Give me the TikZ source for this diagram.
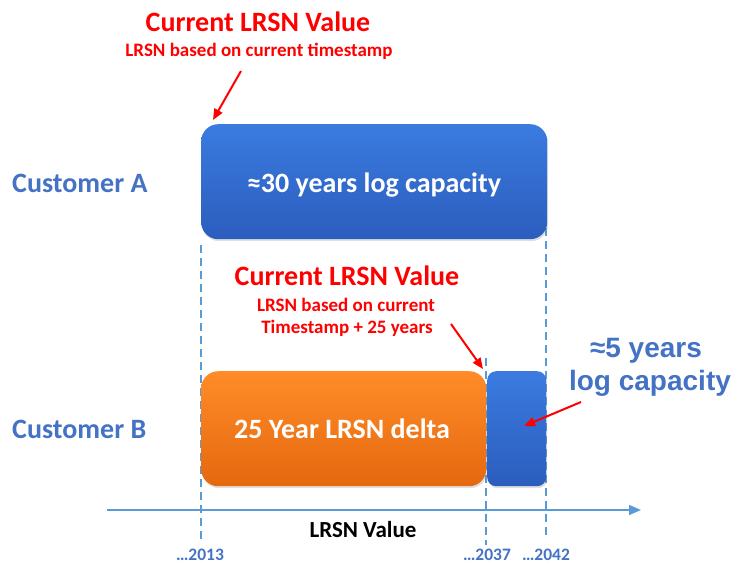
\documentclass[tikz,border=0pt]{standalone}
\usepackage{fontspec}
\setmainfont{Carlito}
\newfontfamily\arialfont{Liberation Sans}
\usetikzlibrary{arrows.meta,shadows}

\definecolor{capblueT}{HTML}{3B7BE0}
\definecolor{capblueB}{HTML}{2B5DBD}
\definecolor{deltaT}{HTML}{FF8C28}
\definecolor{deltaB}{HTML}{E5680F}
\definecolor{labelblue}{HTML}{4472C4}
\definecolor{guideblue}{HTML}{5B9BD5}
\definecolor{markred}{HTML}{FF0000}

\tikzset{
  txt/.style={inner sep=0pt, anchor=base, font=\bfseries},
  bigtxt/.style={txt, font=\fontsize{28}{32}\selectfont\bfseries},
  subtxt/.style={txt, text=markred, font=\fontsize{19}{22}\selectfont\bfseries},
  yeartxt/.style={txt, text=labelblue, font=\fontsize{17.5}{20}\selectfont\bfseries},
  capbox/.style={draw=none, top color=capblueT, bottom color=capblueB,
    anchor=north west, inner sep=0pt, text=white,
    drop shadow={opacity=0.25, shadow xshift=1pt, shadow yshift=-2pt}},
  deltabox/.style={capbox, top color=deltaT, bottom color=deltaB},
  guide/.style={guideblue, line width=2pt, dash pattern=on 8pt off 5pt},
  pointer/.style={markred, line width=2pt,
    -{Triangle[length=11pt, width=9pt]}},
  axisline/.style={guideblue, line width=1.8pt,
    -{Triangle[length=12pt, width=10pt]}},
  sidetxt/.style={txt, text=labelblue, font=\arialfont\fontsize{28}{31}\selectfont\bfseries}
}

\begin{document}
\begin{tikzpicture}[x=1pt, y=-1pt]
\useasboundingbox (0,0) rectangle (745,563);

% end points of the dashed guides and the axis
\coordinate (g13top) at (201,245);
\coordinate (g13bot) at (201,540);
\coordinate (g37top) at (486,358);
\coordinate (g37bot) at (486,545);
\coordinate (g42top) at (546,215);
\coordinate (g42bot) at (546,537);
\coordinate (axstart) at (107,510);
\coordinate (axend) at (641,510);

% dashed year guides
\draw[guide] (g13top) -- (g13bot);
\draw[guide] (g37top) -- (g37bot);
\draw[guide] (g42top) -- (g42bot);

% value axis
\draw[axisline] (axstart) -- (axend);

% capacity bars
\node[capbox, minimum width=346pt, minimum height=115pt, rounded corners=17pt]
  (capA) at (201,124) {};
\node[bigtxt, text=white] (capAtxt) at (374,192) {≈30 years log capacity};

\node[deltabox, minimum width=285pt, minimum height=115pt, rounded corners=17pt]
  (deltaB) at (201,371) {};
\node[bigtxt, text=white] (deltaBtxt) at (342,438) {25 Year LRSN delta};

\node[capbox, minimum width=59pt, minimum height=115pt, rounded corners=9pt]
  (capB) at (487,371) {};

% customer labels
\node[bigtxt, text=labelblue, anchor=base west] (custA) at (12,192) {Customer A};
\node[bigtxt, text=labelblue, anchor=base west] (custB) at (12,438) {Customer B};

% current LRSN value, customer A
\node[bigtxt, text=markred] (curA) at (258,31) {Current LRSN Value};
\node[subtxt] (curAsub) at (259,56) {LRSN based on current timestamp};

% current LRSN value, customer B
\node[bigtxt, text=markred] (curB) at (347,285) {Current LRSN Value};
\node[subtxt] (curBsub1) at (346,311) {LRSN based on current};
\node[subtxt] (curBsub2) at (347,333) {Timestamp + 25 years};

% remaining capacity of customer B
\node[sidetxt] (fiveA) at (646,357) {≈5 years};
\node[sidetxt] (fiveB) at (650,390) {log capacity};

% red pointers
\coordinate (ptrAstart) at (241,71);
\coordinate (ptrAend) at (213,120);
\coordinate (ptrBstart) at (451,324);
\coordinate (ptrBend) at (483,369);
\coordinate (ptrCstart) at (581,402);
\coordinate (ptrCend) at (524,426);
\draw[pointer] (ptrAstart) -- (ptrAend);
\draw[pointer] (ptrBstart) -- (ptrBend);
\draw[pointer] (ptrCstart) -- (ptrCend);

% axis captions
\node[txt, font=\fontsize{23}{26}\selectfont\bfseries] (axlabel) at (363,537) {LRSN Value};
\node[yeartxt] (y2013) at (200,560) {…2013};
\node[yeartxt] (y2037) at (487,560) {…2037};
\node[yeartxt] (y2042) at (546,560) {…2042};
\end{tikzpicture}
\end{document}
